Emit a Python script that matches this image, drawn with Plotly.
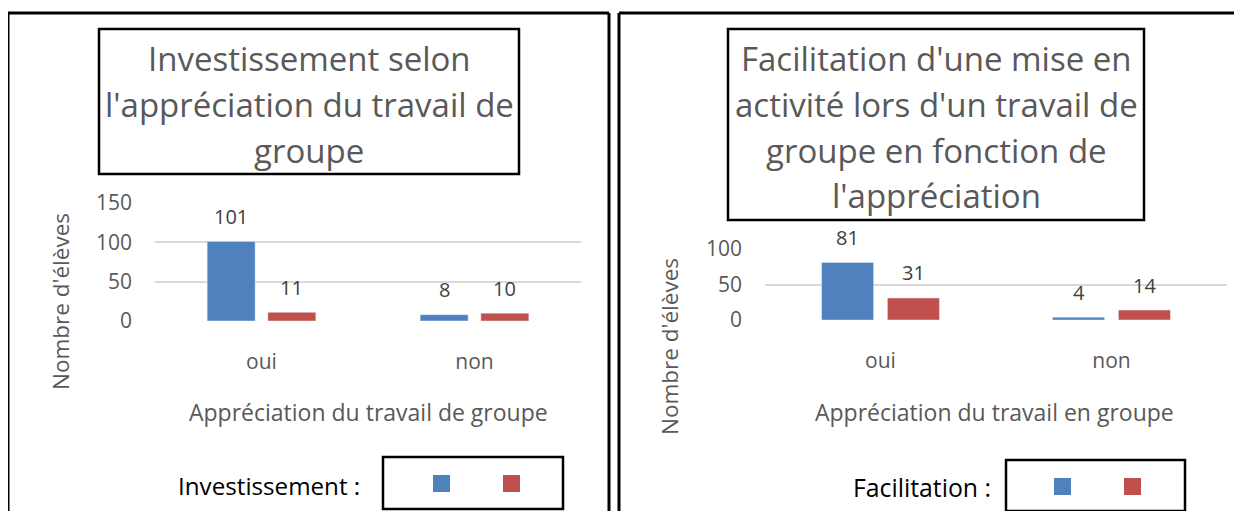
import plotly.graph_objects as go

# ---------------- data ----------------
categories = ["oui", "non"]
invest_blue = [101, 8]
invest_red = [11, 10]
facil_blue = [81, 4]
facil_red = [31, 14]

y1_ticks = [0, 50, 100, 150]
y2_ticks = [0, 50, 100]

title_left = ["Investissement selon", "l'appréciation du travail de", "groupe"]
title_right = ["Facilitation d'une mise en", "activité lors d'un travail de",
               "groupe en fonction de", "l'appréciation"]
xlabel_left = "Appréciation du travail de groupe"
xlabel_right = "Appréciation du travail en groupe"
ylabel = "Nombre d'élèves"
legend_left = "Investissement :"
legend_right = "Facilitation :"

# ---------------- style ----------------
OFF = 8                                  # page body margin
W, H = 1242 - 2 * OFF, 519 - 2 * OFF     # page fits the window without scrollbars
BLUE = "#4F81BD"
RED = "#C0504D"
GRAY = "#595959"
LABEL = "#404040"
GRID = "#D9D9D9"
FONT = "Open Sans"
BARGAP = 0.43
BARGROUPGAP = 0.21


def px(x):
    return (x - OFF) / W


def py(y):
    return 1 - (y - OFF) / H


fig = go.Figure()

fig.add_trace(go.Bar(x=categories, y=invest_blue, marker_color=BLUE, xaxis="x", yaxis="y",
                     showlegend=False, hoverinfo="skip"))
fig.add_trace(go.Bar(x=categories, y=invest_red, marker_color=RED, xaxis="x", yaxis="y",
                     showlegend=False, hoverinfo="skip"))
fig.add_trace(go.Bar(x=categories, y=facil_blue, marker_color=BLUE, xaxis="x2", yaxis="y2",
                     showlegend=False, hoverinfo="skip"))
fig.add_trace(go.Bar(x=categories, y=facil_red, marker_color=RED, xaxis="x2", yaxis="y2",
                     showlegend=False, hoverinfo="skip"))

dom_x1 = [155, 581]
dom_y1 = [203, 321]
dom_x2 = [765, 1227]
dom_y2 = [249, 320]

axis_font = dict(family=FONT, size=21, color=GRAY)
common_x = dict(showgrid=False, zeroline=False, showline=False, ticks="",
                tickfont=axis_font, ticklabelstandoff=26, fixedrange=True,
                automargin=False)
common_y = dict(showgrid=True, gridcolor=GRID, gridwidth=2, zeroline=False,
                showline=False, ticks="", tickfont=axis_font, ticklabelstandoff=22,
                fixedrange=True, automargin=False)

fig.update_layout(
    width=W, height=H, autosize=False,
    margin=dict(l=0, r=0, t=0, b=0, pad=0),
    paper_bgcolor="white", plot_bgcolor="white",
    barmode="group", bargap=BARGAP, bargroupgap=BARGROUPGAP,
    font=dict(family=FONT, color=GRAY),
    xaxis=dict(domain=[px(dom_x1[0]), px(dom_x1[1])], anchor="y", **common_x),
    yaxis=dict(domain=[py(dom_y1[1]), py(dom_y1[0])], anchor="x", range=[0, 150],
               tickvals=y1_ticks, **common_y),
    xaxis2=dict(domain=[px(dom_x2[0]), px(dom_x2[1])], anchor="y2", **common_x),
    yaxis2=dict(domain=[py(dom_y2[1]), py(dom_y2[0])], anchor="x2", range=[0, 100],
                tickvals=y2_ticks, **common_y),
)

annotations = []
shapes = []


def add_labels(vals_blue, vals_red, xref, yref, dom):
    catw = (dom[1] - dom[0]) / len(categories)
    off = catw * (1 - BARGAP) / 4
    for vals, sign in ((vals_blue, -1), (vals_red, 1)):
        for c, v in zip(categories, vals):
            annotations.append(dict(x=c, y=v, xref=xref, yref=yref, text=str(v),
                                    showarrow=False, xshift=sign * off, yshift=25,
                                    yanchor="middle",
                                    font=dict(family=FONT, size=20, color=LABEL)))


add_labels(invest_blue, invest_red, "x", "y", dom_x1)
add_labels(facil_blue, facil_red, "x2", "y2", dom_x2)


def add_title(lines, cx, ys):
    for t, yy in zip(lines, ys):
        annotations.append(dict(x=px(cx), y=py(yy), xref="paper", yref="paper", text=t,
                                showarrow=False, xanchor="center", yanchor="middle",
                                font=dict(family=FONT, size=33, color=GRAY)))


add_title(title_left, 309, [58, 104, 150])
add_title(title_right, 936, [58, 104, 150, 195])

for t, cx, cy in ((xlabel_left, 368, 412), (xlabel_right, 994, 412)):
    annotations.append(dict(x=px(cx), y=py(cy), xref="paper", yref="paper", text=t,
                            showarrow=False, xanchor="center", yanchor="middle",
                            font=dict(family=FONT, size=23, color=GRAY)))
for cx, cy in ((60, 302), (669, 347)):
    annotations.append(dict(x=px(cx), y=py(cy), xref="paper", yref="paper", text=ylabel,
                            showarrow=False, xanchor="center", yanchor="middle",
                            textangle=-90,
                            font=dict(family=FONT, size=22.5, color=GRAY)))

for t, rx, cy, fs in ((legend_left, 362, 485, 24.2), (legend_right, 993, 487, 24.8)):
    annotations.append(dict(x=px(rx), y=py(cy), xref="paper", yref="paper", text=t,
                            showarrow=False, xanchor="right", yanchor="middle",
                            font=dict(family=FONT, size=fs, color="black")))


def rect(x0, y0, x1, y1, lw=2.5, fill=None):
    d = dict(type="rect", xref="paper", yref="paper",
             x0=px(x0), x1=px(x1), y0=py(y1), y1=py(y0), layer="above")
    if fill:
        d.update(fillcolor=fill, line=dict(width=0))
    else:
        d.update(line=dict(color="black", width=lw), fillcolor="rgba(0,0,0,0)")
    shapes.append(d)


def line(x0, y0, x1, y1, lw=3):
    shapes.append(dict(type="line", xref="paper", yref="paper",
                       x0=px(x0), x1=px(x1), y0=py(y0), y1=py(y1), layer="above",
                       line=dict(color="black", width=lw)))


# panel borders (bottom / far right lie outside the picture)
line(8, 13, 609, 13)
line(8, 13, 8, 519)
line(609, 13, 609, 519)
line(619, 13, 1234, 13)
line(619, 13, 619, 519)
# title boxes
rect(99, 29, 519, 174)
rect(728, 29, 1144, 220)
# legend boxes and keys
rect(383, 457, 563, 509)
rect(433, 475, 450, 492, fill=BLUE)
rect(503, 475, 520, 492, fill=RED)
rect(1006, 460, 1185, 511)
rect(1054, 478, 1071, 495, fill=BLUE)
rect(1124, 478, 1141, 495, fill=RED)

fig.update_layout(annotations=annotations, shapes=shapes)

fig.write_html("out.html")
